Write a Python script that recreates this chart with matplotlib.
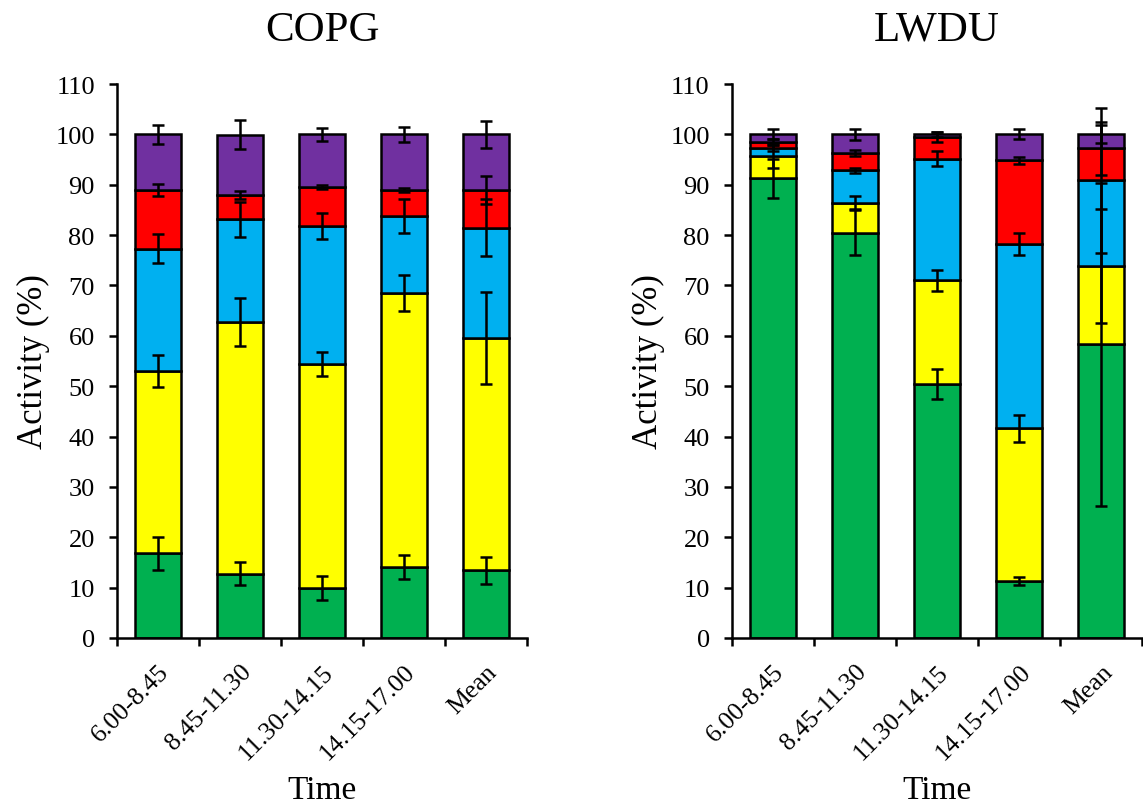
import matplotlib
matplotlib.use('Agg')
import matplotlib.pyplot as plt
import numpy as np

plt.rcParams['font.family'] = ['Liberation Serif', 'DejaVu Serif']

# Categories and stacked segments (%)
categories = ['6.00-8.45', '8.45-11.30', '11.30-14.15', '14.15-17.00', 'Mean']
colors = ['#00B050', '#FFFF00', '#00B0F0', '#FF0000', '#7030A0']

# COPG segments (bottom -> top)
copg_green = [16.8, 12.8, 9.9, 14.1, 13.4]
copg_yellow = [36.2, 50.0, 44.5, 54.4, 46.2]
copg_blue = [24.3, 20.3, 27.4, 15.3, 21.9]
copg_red = [11.7, 4.9, 7.8, 5.1, 7.4]
copg_purple = [11.0, 11.9, 10.4, 11.1, 11.1]

copg_green_err = [3.3, 2.3, 2.35, 2.45, 2.7]
copg_yellow_err = [3.1, 4.75, 2.45, 3.6, 9.1]
copg_blue_err = [2.9, 3.4, 2.5, 3.3, 5.7]
copg_red_err = [1.2, 0.8, 0.4, 0.4, 2.8]
copg_purple_err = [1.9, 2.9, 1.3, 1.45, 2.7]

# LWDU segments (bottom -> top)
lwdu_green = [91.3, 80.5, 50.5, 11.3, 58.3]
lwdu_yellow = [4.5, 5.9, 20.5, 30.3, 15.5]
lwdu_blue = [1.4, 6.5, 24.2, 36.6, 17.1]
lwdu_red = [1.3, 3.4, 4.3, 16.7, 6.3]
lwdu_purple = [1.5, 3.7, 0.5, 5.1, 2.8]

lwdu_green_err = [3.9, 4.4, 3.0, 0.85, 32.0]
lwdu_yellow_err = [2.5, 1.3, 2.1, 2.65, 11.3]
lwdu_blue_err = [0.6, 0.5, 1.45, 2.25, 14.4]
lwdu_red_err = [0.6, 0.5, 1.0, 0.7, 5.3]
lwdu_purple_err = [1.0, 1.05, 0.5, 1.0, 1.8]


def draw_panel(ax, title, segs, errs):
    x = np.arange(len(categories))
    bottom = np.zeros(len(categories))
    tops = []
    for seg, col in zip(segs, colors):
        seg = np.array(seg)
        ax.bar(x, seg, bottom=bottom, width=0.56, color=col,
               edgecolor='black', linewidth=1.8, zorder=2)
        bottom = bottom + seg
        tops.append(bottom.copy())
    # error bars on top of each segment
    for top, err in zip(tops, errs):
        ax.errorbar(x, top, yerr=err, fmt='none', ecolor='black',
                    elinewidth=1.8, capsize=4.5, capthick=1.8, zorder=3)

    ax.set_xlim(-0.5, len(categories) - 0.5)
    ax.set_ylim(0, 110)
    ax.set_yticks(np.arange(0, 111, 10))
    ax.set_xticks(np.arange(-0.5, len(categories), 1.0))
    ax.set_xticklabels([])
    ax.set_xticks(x, minor=True)
    ax.set_xticklabels(categories, minor=True, rotation=45, ha='right',
                       rotation_mode='anchor', fontsize=18.5)
    ax.tick_params(axis='x', which='minor', length=0, pad=16)
    ax.tick_params(axis='x', which='major', length=6, width=1.8, direction='out')
    ax.tick_params(axis='y', length=6, width=1.8, direction='out', labelsize=19, pad=10)
    for s in ['top', 'right']:
        ax.spines[s].set_visible(False)
    for s in ['left', 'bottom']:
        ax.spines[s].set_linewidth(1.8)
    ax.set_ylabel('Activity (%)', fontsize=25, labelpad=4)
    ax.set_xlabel('Time', fontsize=24, labelpad=8)
    ax.set_title(title, fontsize=31, pad=32)


fig = plt.figure(figsize=(11.43, 8.12), dpi=100)
ax1 = fig.add_axes([0.1024, 0.2131, 0.3587, 0.6822])
ax2 = fig.add_axes([0.6404, 0.2131, 0.3590, 0.6822])

draw_panel(ax1, 'COPG',
           [copg_green, copg_yellow, copg_blue, copg_red, copg_purple],
           [copg_green_err, copg_yellow_err, copg_blue_err, copg_red_err, copg_purple_err])
draw_panel(ax2, 'LWDU',
           [lwdu_green, lwdu_yellow, lwdu_blue, lwdu_red, lwdu_purple],
           [lwdu_green_err, lwdu_yellow_err, lwdu_blue_err, lwdu_red_err, lwdu_purple_err])

fig.savefig('out.png', dpi=100)
